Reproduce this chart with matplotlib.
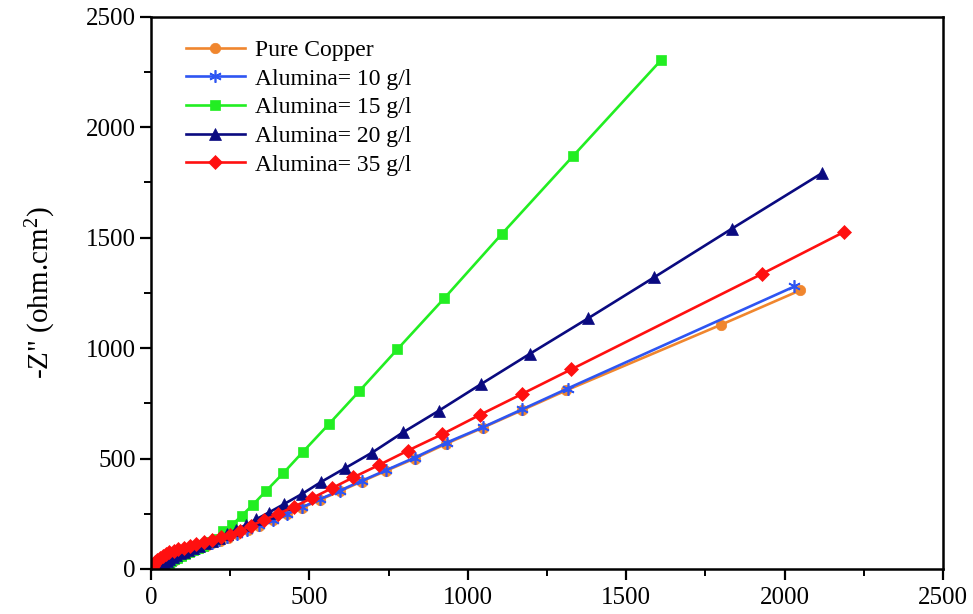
import matplotlib
matplotlib.use("Agg")
import matplotlib.pyplot as plt

plt.rcParams["font.family"] = ["Liberation Serif", "DejaVu Serif"]
plt.rcParams["mathtext.fontset"] = "custom"
plt.rcParams["mathtext.rm"] = "Liberation Serif"
plt.rcParams["mathtext.it"] = "Liberation Serif:italic"

# Nyquist data: Z' (real) and -Z'' (imaginary), ohm.cm^2
cu_x = [40, 45, 51, 58, 66, 75, 85, 96, 108, 122, 137, 154, 173, 194, 217, 243,
        272, 305, 342, 384, 428, 477, 533, 596, 665, 743, 832, 932, 1048, 1170,
        1310, 1800, 2050]
cu_y = [1, 7, 14, 22, 31, 40, 49, 58, 67, 76, 85, 95, 105, 116, 128, 142,
        157, 175, 196, 220, 247, 277, 313, 352, 396, 445, 500, 567, 640, 718,
        808, 1106, 1262]

al10_x = [38, 43, 49, 56, 64, 73, 83, 94, 106, 120, 135, 152, 171, 192, 215, 241,
          270, 303, 342, 384, 428, 477, 533, 596, 665, 743, 832, 933, 1048, 1172,
          1315, 2031]
al10_y = [2, 9, 16, 24, 33, 42, 51, 60, 69, 78, 87, 97, 107, 118, 130, 144,
          159, 177, 198, 222, 249, 279, 316, 355, 399, 448, 504, 572, 642, 723,
          817, 1279]

al15_x = [38, 43, 49, 56, 64, 73, 83, 94, 106, 119, 133, 148, 165, 184, 205, 228,
          256, 286, 321, 363, 417, 480, 561, 658, 778, 926, 1107, 1332, 1611]
al15_y = [5, 12, 20, 28, 36, 44, 52, 60, 68, 76, 85, 95, 106, 120, 138, 170,
          200, 241, 290, 353, 433, 531, 655, 806, 995, 1226, 1516, 1869, 2305]

al20_x = [23, 28, 34, 41, 49, 58, 68, 79, 91, 104, 118, 134, 151, 170, 191, 214,
          240, 268, 299, 332, 371, 420, 477, 538, 612, 698, 796, 908, 1043, 1197,
          1380, 1589, 1833, 2118]
al20_y = [4, 11, 20, 29, 38, 47, 55, 63, 71, 79, 87, 96, 105, 116, 128, 142,
          158, 177, 199, 225, 255, 294, 340, 395, 456, 527, 619, 716, 838, 975,
          1135, 1321, 1540, 1792]

al35_x = [2, 5, 9, 14, 20, 28, 37, 47, 58, 71, 86, 103, 122, 143, 167, 193,
          221, 249, 281, 316, 357, 401, 451, 507, 570, 639, 720, 811, 919, 1040,
          1172, 1327, 1930, 2188]
al35_y = [5, 14, 24, 33, 42, 51, 60, 68, 76, 83, 90, 97, 105, 113, 122, 132,
          143, 156, 173, 196, 222, 249, 282, 320, 365, 415, 471, 536, 610, 699,
          793, 904, 1337, 1526]

labels = ["Pure Copper", "Alumina= 10 g/l", "Alumina= 15 g/l",
          "Alumina= 20 g/l", "Alumina= 35 g/l"]
x_ticks = [0, 500, 1000, 1500, 2000, 2500]
y_ticks = [0, 500, 1000, 1500, 2000, 2500]

series = [
    (cu_x, cu_y, "#F0862E", "o", 7.5),
    (al10_x, al10_y, "#2E55F2", (6, 2, 0), 9),
    (al15_x, al15_y, "#22EE22", "s", 7.5),
    (al20_x, al20_y, "#0A0A80", "^", 8.5),
    (al35_x, al35_y, "#FF1010", "D", 7.5),
]

fig = plt.figure(figsize=(9.73, 6.14), dpi=100)
ax = fig.add_axes([0.1552, 0.0733, 0.8140, 0.8995])

for (xs, ys, c, m, ms), lab in zip(series, labels):
    ax.plot(xs, ys, color=c, marker=m, markersize=ms, linewidth=1.9,
            markeredgewidth=1.2 if m == (6, 2, 0) else 0.5,
            markeredgecolor=c, label=lab)

ax.set_xlim(0, 2500)
ax.set_ylim(0, 2500)
ax.set_xticks(x_ticks)
ax.set_yticks(y_ticks)
ax.set_xticks([250, 750, 1250, 1750, 2250], minor=True)
ax.set_yticks([250, 750, 1250, 1750, 2250], minor=True)
ax.tick_params(axis="both", which="major", direction="out", length=8, width=1.6,
               labelsize=18)
ax.tick_params(axis="y", which="major", pad=3)
ax.tick_params(axis="x", which="major", pad=5)
ax.tick_params(axis="both", which="minor", direction="out", length=5, width=1.4)
for s in ax.spines.values():
    s.set_linewidth(1.8)

ax.set_ylabel('-Z" (ohm.cm$^2$)', fontsize=21, labelpad=20)

leg = ax.legend(loc="upper left", frameon=False, fontsize=17, handlelength=2.5,
                handletextpad=0.45, labelspacing=0.3,
                bbox_to_anchor=(0.017, 0.997))

fig.savefig("out.png", dpi=100)
